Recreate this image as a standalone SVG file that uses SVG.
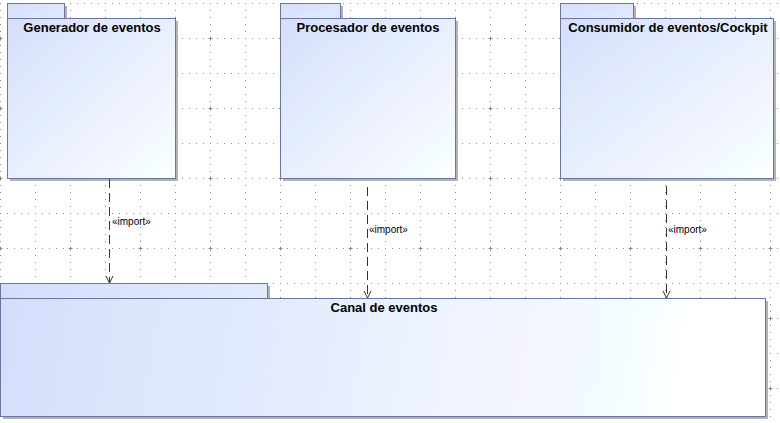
<svg xmlns="http://www.w3.org/2000/svg" width="780" height="423" viewBox="0 0 780 423">
<style>
.body{stroke:#6a76a0;stroke-width:1;fill:url(#g)}
.tab{stroke:#6a76a0;stroke-width:1;fill:url(#gt)}
.sh{fill:#b4b4b4}
.title{font-family:"Liberation Sans",Arial,sans-serif;font-size:13px;font-weight:bold;fill:#000;text-anchor:middle}
.lbl{font-family:"Liberation Sans",Arial,sans-serif;font-size:10px;fill:#000}
.con{stroke:#333;stroke-width:1;fill:none;stroke-dasharray:9 5}
.grid{stroke:#888;stroke-width:1;stroke-dasharray:1 6;fill:none}
</style>
<defs>
<linearGradient id="g" x1="0" y1="0" x2="1" y2="1">
<stop offset="0" stop-color="#d4defc"/>
<stop offset="0.25" stop-color="#dfe7fb"/>
<stop offset="0.45" stop-color="#e5eefd"/>
<stop offset="0.62" stop-color="#eef2fe"/>
<stop offset="0.75" stop-color="#f4f5fe"/>
<stop offset="0.85" stop-color="#f1fcff"/>
<stop offset="1" stop-color="#ffffff"/>
</linearGradient>
<linearGradient id="gb" gradientUnits="userSpaceOnUse" x1="0" y1="298" x2="765" y2="428">
<stop offset="0" stop-color="#d4defc"/>
<stop offset="0.2" stop-color="#dde6fb"/>
<stop offset="0.4" stop-color="#e4ecfd"/>
<stop offset="0.55" stop-color="#edf3fe"/>
<stop offset="0.68" stop-color="#f4f5fe"/>
<stop offset="0.8" stop-color="#f2fcff"/>
<stop offset="0.88" stop-color="#ffffff"/>
<stop offset="1" stop-color="#ffffff"/>
</linearGradient>
<linearGradient id="gt" x1="0" y1="0" x2="1" y2="1">
<stop offset="0" stop-color="#d6dffc"/>
<stop offset="1" stop-color="#e3eafd"/>
</linearGradient>
<pattern id="grid" patternUnits="userSpaceOnUse" x="0" y="-32" width="70" height="70">
<line class="grid" x1="0" y1="0.5" x2="70" y2="0.5"/>
<line class="grid" x1="0" y1="35.5" x2="70" y2="35.5"/>
<line class="grid" x1="0.5" y1="0" x2="0.5" y2="70"/>
<line class="grid" x1="35.5" y1="0" x2="35.5" y2="70"/>
<path d="M-1.5 0.5h4M0.5 -1.5v4" stroke="#888" stroke-width="1"/>
<path d="M68.5 0.5h4M70.5 -1.5v4M-1.5 70.5h4M0.5 68.5v4M68.5 70.5h4M70.5 68.5v4" stroke="#888" stroke-width="1"/>
</pattern>
<marker id="arr" markerWidth="10" markerHeight="10" refX="8" refY="5" orient="auto" markerUnits="userSpaceOnUse" viewBox="0 0 10 10">
<path d="M1 1.5 L8 5 L1 8.5" fill="none" stroke="#333" stroke-width="1"/>
</marker>
</defs>
<rect x="0" y="0" width="780" height="423" fill="#fff"/>
<rect x="0" y="0" width="780" height="423" fill="url(#grid)"/>

<g id="generador">
<rect class="sh" x="10" y="6" width="57" height="15"/>
<rect class="sh" x="10" y="21" width="168" height="160"/>
<rect class="tab" x="7.5" y="3.5" width="57" height="15"/>
<rect class="body" x="7.5" y="18.5" width="168" height="160"/>
<text class="title" x="92" y="32">Generador de eventos</text>
</g>

<g id="procesador">
<rect class="sh" x="283" y="6" width="60" height="15"/>
<rect class="sh" x="283" y="21" width="175" height="160"/>
<rect class="tab" x="280.5" y="3.5" width="60" height="15"/>
<rect class="body" x="280.5" y="18.5" width="175" height="160"/>
<text class="title" x="368" y="32">Procesador de eventos</text>
</g>

<g id="consumidor">
<rect class="sh" x="563" y="6" width="73" height="15"/>
<rect class="sh" x="563" y="21" width="213" height="160"/>
<rect class="tab" x="560.5" y="3.5" width="73" height="15"/>
<rect class="body" x="560.5" y="18.5" width="213" height="160"/>
<text class="title" x="668" y="32">Consumidor de eventos/Cockpit</text>
</g>

<g id="canal">
<rect class="sh" x="3" y="286" width="267" height="15"/>
<rect class="sh" x="3" y="301" width="765" height="118"/>
<rect class="tab" x="0.5" y="283.5" width="267" height="15" fill="url(#gb)" style="fill:url(#gb)"/>
<rect class="body" x="0.5" y="298.5" width="765" height="118" style="fill:url(#gb)"/>
<text class="title" x="384" y="312">Canal de eventos</text>
</g>

<g id="connectors">
<line class="con" x1="109.5" y1="179" x2="109.5" y2="283" marker-end="url(#arr)"/>
<text class="lbl" x="112" y="225">«import»</text>
<line class="con" x1="367.5" y1="187" x2="367.5" y2="298" marker-end="url(#arr)"/>
<text class="lbl" x="369" y="233">«import»</text>
<line class="con" x1="666.5" y1="186" x2="666.5" y2="298" marker-end="url(#arr)"/>
<text class="lbl" x="668" y="233">«import»</text>
</g>
</svg>
